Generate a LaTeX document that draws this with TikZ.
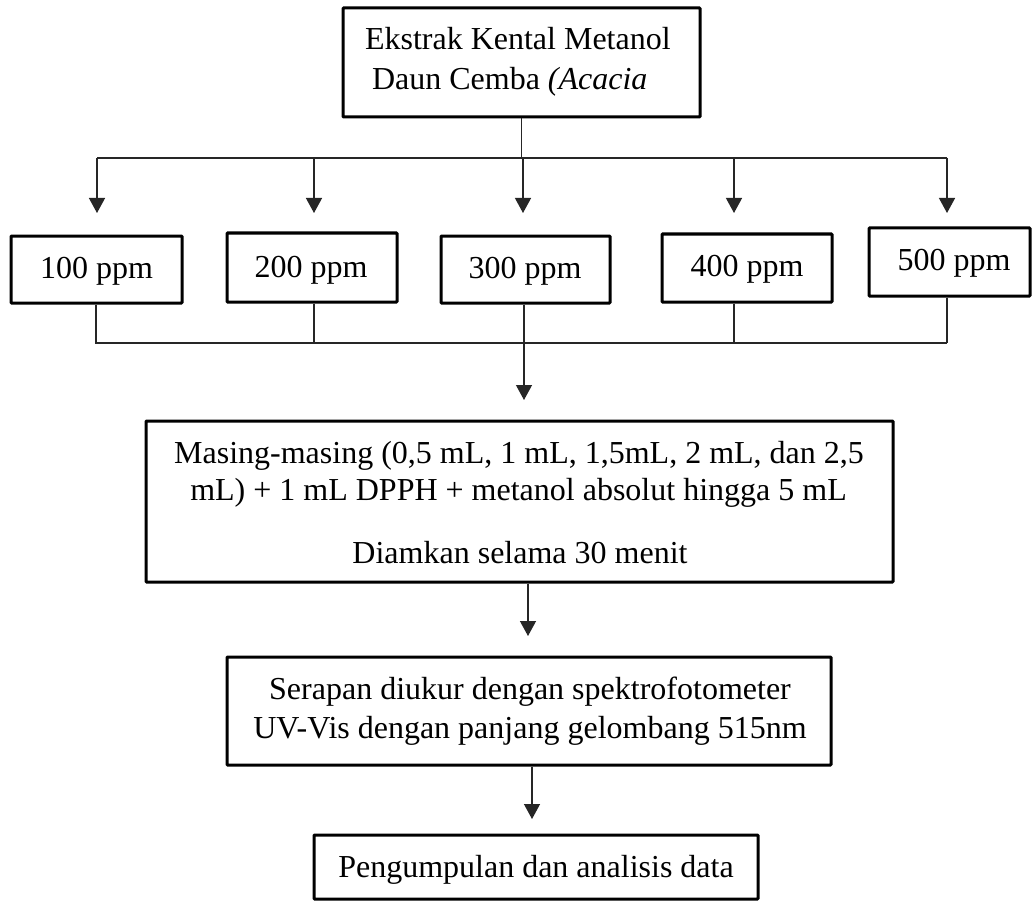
\documentclass[tikz,border=0pt]{standalone}
\usepackage{fontspec}
\setmainfont{Liberation Serif}
\usetikzlibrary{arrows.meta}
\tikzset{
  box/.style={draw=black, line width=3pt, inner sep=0pt, rounded corners=0.8pt},
  txt/.style={inner sep=0pt, outer sep=0pt, font=\fontsize{32}{38}\selectfont},
  link/.style={draw=black!85, line width=1.3pt},
  arr/.style={link, -{Triangle[width=16pt,length=15pt]}}
}
\begin{document}
\begin{tikzpicture}[x=1pt,y=-1pt]
\useasboundingbox[fill=white] (0,0) rectangle (1032,901);
% boxes
\node[box, minimum width=357pt, minimum height=109pt] (top) at (521.5,62.5) {};
\node[box, minimum width=171pt, minimum height=67pt] (b1) at (96.5,269.5) {};
\node[box, minimum width=170pt, minimum height=69pt] (b2) at (312,267.5) {};
\node[box, minimum width=169pt, minimum height=67pt] (b3) at (525.5,269.5) {};
\node[box, minimum width=170pt, minimum height=68pt] (b4) at (747,268) {};
\node[box, minimum width=161pt, minimum height=68pt] (b5) at (949.5,262) {};
\node[box, minimum width=747pt, minimum height=161pt] (mid) at (519.5,501.5) {};
\node[box, minimum width=604pt, minimum height=108pt] (ser) at (529,711) {};
\node[box, minimum width=444pt, minimum height=64pt] (last) at (536,867) {};
% texts
\node[txt, anchor=base west] (topA) at (365,50) {Ekstrak Kental Metanol};
\node[txt, anchor=base west] (topB) at (372,90) {Daun Cemba \textit{(Acacia}};
\node[txt, anchor=base] (t1) at (96.5,278) {100 ppm};
\node[txt, anchor=base] (t2) at (311,277) {200 ppm};
\node[txt, anchor=base] (t3) at (525,278) {300 ppm};
\node[txt, anchor=base] (t4) at (747,276) {400 ppm};
\node[txt, anchor=base] (t5) at (954,270) {500 ppm};
\node[txt, anchor=base] (midA) at (519,463) {Masing-masing (0,5 mL, 1 mL, 1,5mL, 2 mL, dan 2,5};
\node[txt, anchor=base] (midB) at (518.5,500) {mL) + 1 mL DPPH + metanol absolut hingga 5 mL};
\node[txt, anchor=base] (midC) at (520,563) {Diamkan selama 30 menit};
\node[txt, anchor=base] (serA) at (530,699) {Serapan diukur dengan spektrofotometer};
\node[txt, anchor=base] (serB) at (530,738) {UV-Vis dengan panjang gelombang 515nm};
\node[txt, anchor=base] (lastT) at (536,877) {Pengumpulan dan analisis data};
% junction coordinates
\coordinate (jt) at (521.5,158);
\coordinate (h1) at (97,158);
\coordinate (h2) at (314,158);
\coordinate (h3) at (523,158);
\coordinate (h4) at (734,158);
\coordinate (h5) at (947,158);
\coordinate (a1) at (97,213);
\coordinate (a2) at (314,213);
\coordinate (a3) at (523,213);
\coordinate (a4) at (734,213);
\coordinate (a5) at (947,213);
\coordinate (g1) at (96,343);
\coordinate (g2) at (314,343);
\coordinate (g3) at (524,343);
\coordinate (g4) at (734,343);
\coordinate (g5) at (947,343);
\coordinate (gL) at (95,343);
\coordinate (m1) at (524,400);
\coordinate (m2s) at (528,582);
\coordinate (m2) at (528,636);
\coordinate (m3s) at (532,765);
\coordinate (m3) at (532,819);
% connectors top
\draw[link] (top.south) -- (jt);
\draw[link] (h1) -- (h5);
\draw[arr] (h1) -- (a1);
\draw[arr] (h2) -- (a2);
\draw[arr] (h3) -- (a3);
\draw[arr] (h4) -- (a4);
\draw[arr] (h5) -- (a5);
% connectors bottom
\draw[link] (b1.south -| g1) -- (g1);
\draw[link] (b2.south -| g2) -- (g2);
\draw[link] (b3.south -| g3) -- (g3);
\draw[link] (b4.south -| g4) -- (g4);
\draw[link] (b5.south -| g5) -- (g5);
\draw[link] (gL) -- (g5);
\draw[arr] (g3) -- (m1);
\draw[arr] (mid.south -| m2s) -- (m2);
\draw[arr] (ser.south -| m3s) -- (m3);
\end{tikzpicture}
\end{document}
